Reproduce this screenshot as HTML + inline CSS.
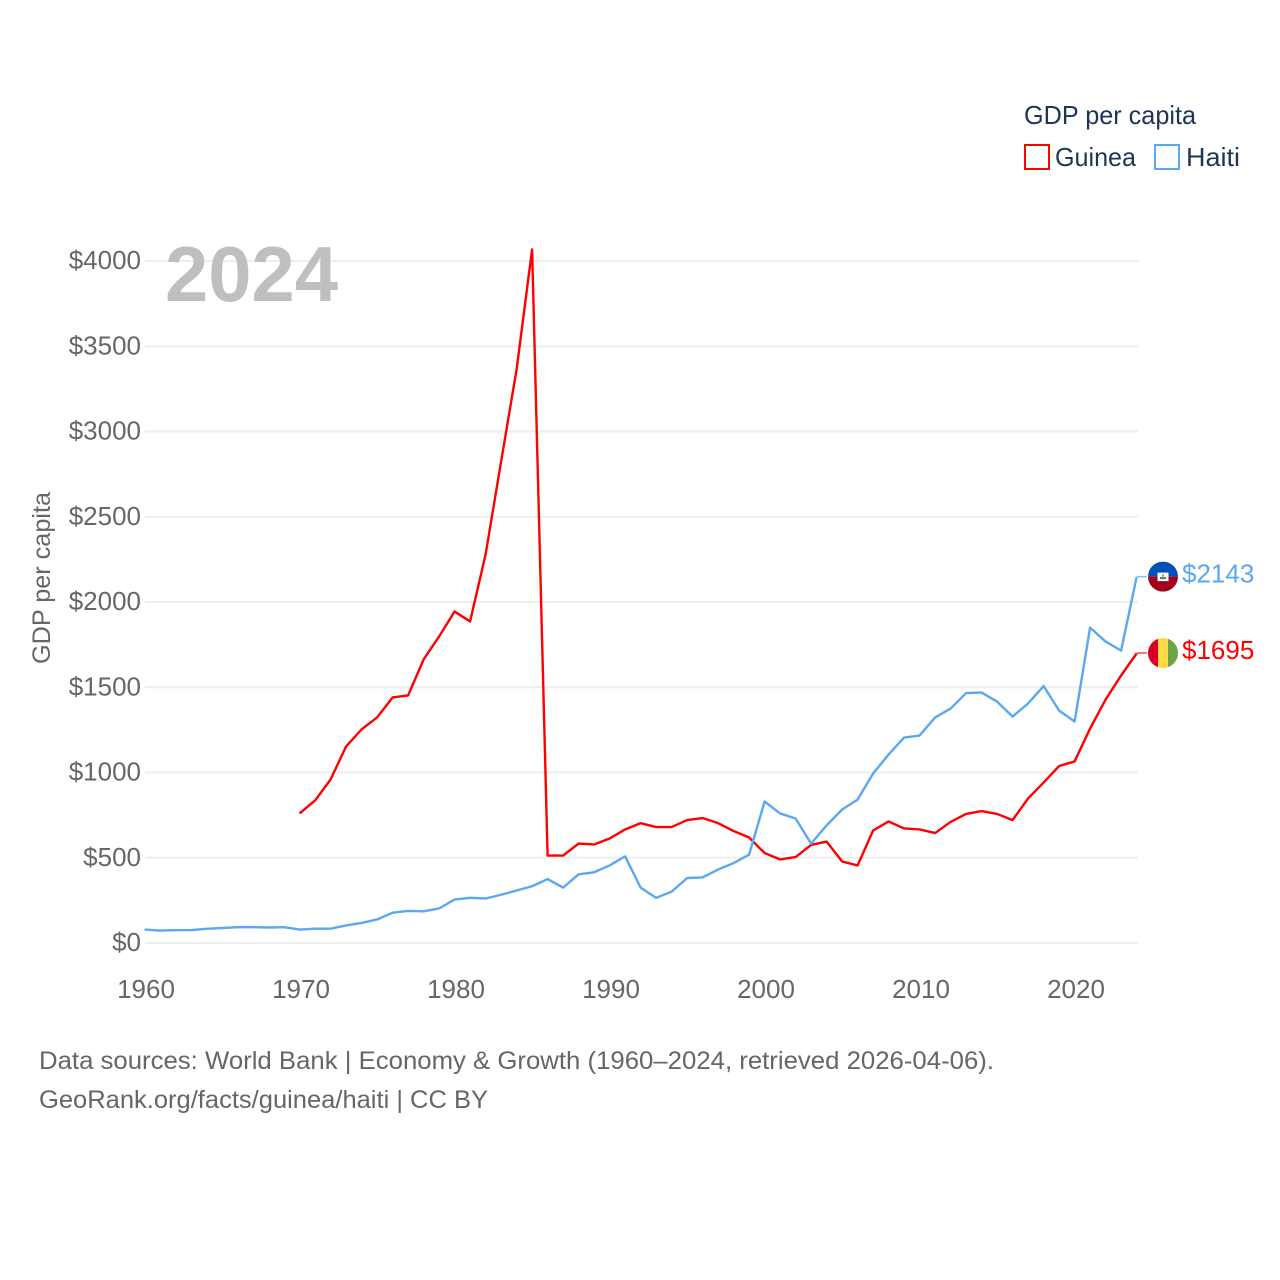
<!DOCTYPE html>
<html>
<head>
<meta charset="utf-8">
<style>
html,body{margin:0;padding:0;background:#fff;}
svg{display:block;font-family:"Liberation Sans",sans-serif;}
</style>
</head>
<body>
<svg id="chart" width="1280" height="1280" viewBox="0 0 1280 1280" xmlns="http://www.w3.org/2000/svg">
  <defs>
    <clipPath id="flag-clip"><circle cx="0" cy="0" r="15"/></clipPath>
  </defs>
  <rect width="1280" height="1280" fill="#fff"/>
  <g id="grid"></g>
  <g id="yticks"></g>
  <g id="xticks"></g>
  <text x="165" y="301" font-size="78" font-weight="700" fill="#bfbfbf" textLength="173" lengthAdjust="spacingAndGlyphs">2024</text>
  <text transform="translate(50,664) rotate(-90)" font-size="25" fill="#666" textLength="172" lengthAdjust="spacingAndGlyphs">GDP per capita</text>
  <g id="series"></g>

  <g id="flag-haiti" clip-path="url(#flag-clip)">
    <rect x="-15" y="-15" width="30" height="15" fill="#0052b4"/>
    <rect x="-15" y="0" width="30" height="15" fill="#a2001d"/>
    <rect x="-5.5" y="-4" width="11" height="8.5" fill="#fff"/>
    <rect x="-3" y="0.5" width="6" height="2" fill="#3f7f5f"/>
    <rect x="-1" y="-2.5" width="2" height="3.5" fill="#d8a838"/>
  </g>
  <g id="flag-guinea" clip-path="url(#flag-clip)">
    <rect x="-15" y="-15" width="10" height="30" fill="#d80027"/>
    <rect x="-5" y="-15" width="10" height="30" fill="#ffda44"/>
    <rect x="5" y="-15" width="10" height="30" fill="#6da544"/>
  </g>
  <g id="endlabels"></g>

  <g>
    <text x="1024" y="124" font-size="26" fill="#1d3557" textLength="172" lengthAdjust="spacingAndGlyphs">GDP per capita</text>
    <g>
      <rect x="1025" y="145" width="24" height="24" fill="none" stroke="#ff0000" stroke-width="2"/>
      <text x="1055" y="166" font-size="26" fill="#1d3557" textLength="81" lengthAdjust="spacingAndGlyphs">Guinea</text>
    </g>
    <g>
      <rect x="1155" y="145" width="24" height="24" fill="none" stroke="#5ba8f0" stroke-width="2"/>
      <text x="1186" y="166" font-size="26" fill="#1d3557" textLength="54" lengthAdjust="spacingAndGlyphs">Haiti</text>
    </g>
  </g>

  <text x="39" y="1069" font-size="25" fill="#666" textLength="955" lengthAdjust="spacingAndGlyphs">Data sources: World Bank | Economy &amp; Growth (1960–2024, retrieved 2026-04-06).</text>
  <text x="39" y="1108" font-size="25" fill="#666" textLength="449" lengthAdjust="spacingAndGlyphs">GeoRank.org/facts/guinea/haiti | CC BY</text>
</svg>
<script>
const startYear = 1960;
const yTickValues = [0, 500, 1000, 1500, 2000, 2500, 3000, 3500, 4000];
const xTickValues = [1960, 1970, 1980, 1990, 2000, 2010, 2020];
const haitiValues = [76,70,72,73,80,85,90,90,88,90,76,81,81,100,115,135,175,185,183,200,252,262,258,280,305,330,372,322,400,412,452,505,322,262,298,378,382,428,466,515,827,757,727,580,687,780,838,991,1103,1202,1214,1320,1372,1463,1466,1413,1325,1402,1504,1360,1296,1847,1765,1712,2143];
const guineaValues = [null,null,null,null,null,null,null,null,null,null,757,833,956,1150,1250,1320,1437,1449,1660,1795,1941,1883,2276,2821,3361,4065,510,510,580,575,610,663,700,677,677,718,730,700,654,616,525,487,501,572,592,475,452,657,710,669,663,642,707,754,771,754,718,845,938,1035,1062,1255,1425,1566,1695];
const NS = 'http://www.w3.org/2000/svg';
function xScale(year) { return 144.6 + (year - 1960) * 15.5; }
function yScale(value) { return 943 - value * 0.1705; }
function make(tag, attrs, parent, text) {
  const el = document.createElementNS(NS, tag);
  for (const k in attrs) el.setAttribute(k, attrs[k]);
  if (text !== undefined) el.textContent = text;
  parent.appendChild(el);
  return el;
}
const gridG = document.getElementById('grid');
const yG = document.getElementById('yticks');
const xG = document.getElementById('xticks');
const seriesG = document.getElementById('series');
const labelG = document.getElementById('endlabels');

yTickValues.forEach(function (v) {
  const line = make('line', {x1: 145, x2: 1138, y1: yScale(v), y2: yScale(v), stroke: '#eeeeee', 'stroke-width': 2}, gridG);
  
  
  const t = make('text', {x: 141, y: yScale(v) + 8, 'text-anchor': 'end', 'font-size': 26, fill: '#666'}, yG, '$' + v);
  
  
});
xTickValues.forEach(function (v) {
  const t = make('text', {x: xScale(v) + 1.4, y: 998, 'text-anchor': 'middle', 'font-size': 26, fill: '#666'}, xG, String(v));
  
  
});
function drawSeries(values, color) {
  let d = '';
  let lastV = null;
  let lastX = 0;
  values.forEach(function (v, i) {
    if (v === null) return;
    lastX = xScale(startYear + i);
    d += (d ? 'L' : 'M') + lastX + ' ' + (yScale(v) - 0.5);
    lastV = v;
  });
  const path = make('path', {d: d, fill: 'none', stroke: color, 'stroke-width': 2.4, 'stroke-linejoin': 'round'}, seriesG);
  
  
  const endY = yScale(lastV) - 1;
  const conn = make('line', {x1: lastX, x2: lastX + 10, y1: endY, y2: endY, stroke: color, 'stroke-width': 1.5, opacity: 0.75}, seriesG);
  
  
  const label = make('text', {x: 1182, y: endY + 6, 'font-size': 26, fill: color}, labelG, '$' + lastV);
  
  
  return endY;
}
const guineaEnd = drawSeries(guineaValues, '#ff0000');
const haitiEnd = drawSeries(haitiValues, '#5ba8f0');
document.getElementById('flag-haiti').setAttribute('transform', 'translate(1163,' + haitiEnd + ')');
document.getElementById('flag-guinea').setAttribute('transform', 'translate(1163,' + guineaEnd + ')');
</script>
</body>
</html>
